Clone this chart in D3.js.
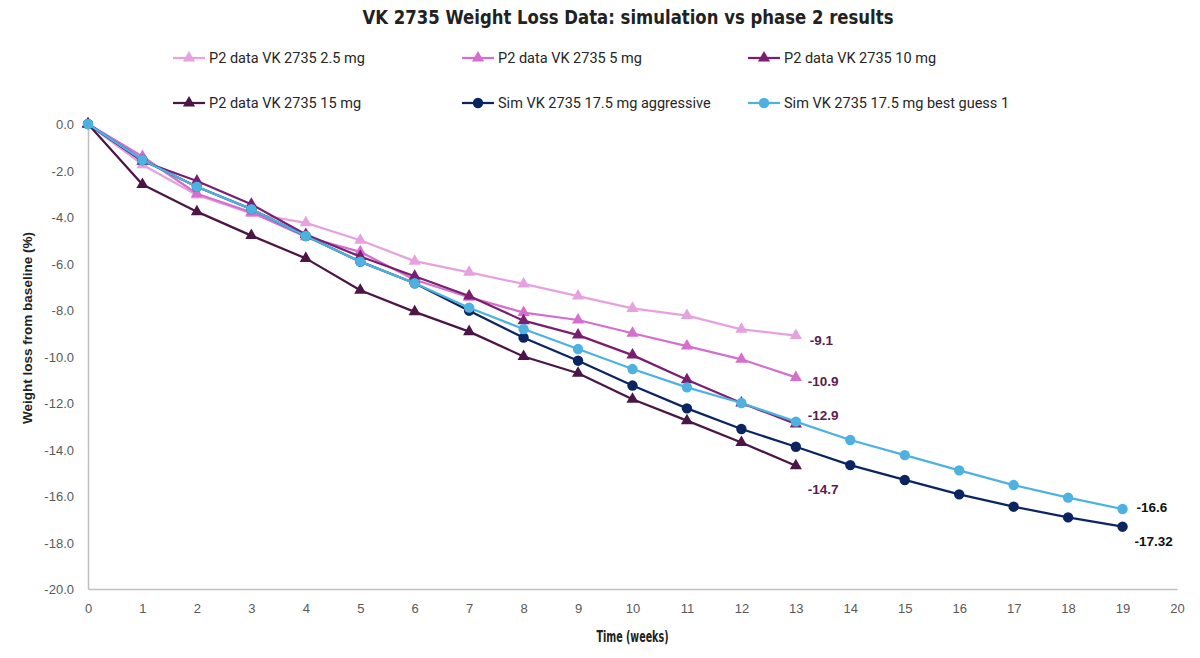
<!DOCTYPE html>
<html lang="en">
	<head>
		<meta charset="utf-8">
		<title>VK 2735 Weight Loss Data</title>
		<script type="text/javascript" src="https://d3js.org/d3.v7.min.js"></script>
		<style type="text/css">
			body { margin: 0; background: #fff; }
			svg { display: block; }
		</style>
	</head>
	<body>
		<script type="text/javascript">

			//Data
			var weeksP2 = [0, 1, 2, 3, 4, 5, 6, 7, 8, 9, 10, 11, 12, 13];
			var weeksSim = [0, 1, 2, 3, 4, 5, 6, 7, 8, 9, 10, 11, 12, 13, 14, 15, 16, 17, 18, 19];

			var p2_2_5mg = [0, -1.75, -3.05, -3.85, -4.25, -5.0, -5.9, -6.38, -6.88, -7.4, -7.93, -8.24, -8.83, -9.1];
			var p2_5mg = [0, -1.4, -3.0, -3.8, -4.85, -5.5, -6.7, -7.45, -8.11, -8.43, -9.0, -9.55, -10.12, -10.9];
			var p2_10mg = [0, -1.6, -2.45, -3.45, -4.75, -5.7, -6.55, -7.4, -8.46, -9.08, -9.94, -11.0, -12.0, -12.9];
			var p2_15mg = [0, -2.6, -3.77, -4.8, -5.78, -7.15, -8.08, -8.93, -10.0, -10.72, -11.84, -12.76, -13.7, -14.7];
			var simAggressive = [0, -1.55, -2.7, -3.66, -4.82, -5.92, -6.85, -8.03, -9.19, -10.18, -11.25, -12.23, -13.12, -13.88, -14.67, -15.31, -15.93, -16.46, -16.92, -17.32];
			var simBestGuess = [0, -1.55, -2.7, -3.66, -4.82, -5.92, -6.85, -7.9, -8.82, -9.68, -10.54, -11.33, -12.0, -12.8, -13.59, -14.24, -14.9, -15.53, -16.07, -16.56];

			var seriesNames = ["P2 data VK 2735 2.5 mg", "P2 data VK 2735 5 mg", "P2 data VK 2735 10 mg",
				"P2 data VK 2735 15 mg", "Sim VK 2735 17.5 mg aggressive", "Sim VK 2735 17.5 mg best guess 1"];
			var endLabels = ["-9.1", "-10.9", "-12.9", "-14.7", "-17.32", "-16.6"];

			var xTicks = d3.range(0, 21);
			var yTicks = [0, -2, -4, -6, -8, -10, -12, -14, -16, -18, -20];

			//Width and height
			var w = 1200;
			var h = 658;
			var margin = {top: 124, right: 23, bottom: 69, left: 88};

			var colors = ["#e6a1df", "#d46fcd", "#7a1f6f", "#4b1546", "#0b2462", "#4eb2e1"];
			var shapes = ["tri", "tri", "tri", "tri", "dot", "dot"];
			var labelColors = ["#5a1c55", "#5a1c55", "#5a1c55", "#5a1c55", "#111", "#111"];
			//label offsets from the last point
			var labelDx = [14, 12, 12, 12, 12, 14];
			var labelDy = [9, 9, -4, 28, 19, 3];

			var series = [
				{x: weeksP2, y: p2_2_5mg},
				{x: weeksP2, y: p2_5mg},
				{x: weeksP2, y: p2_10mg},
				{x: weeksP2, y: p2_15mg},
				{x: weeksSim, y: simAggressive},
				{x: weeksSim, y: simBestGuess}
			].map(function(s, i) {
				return {
					name: seriesNames[i], color: colors[i], shape: shapes[i],
					label: endLabels[i], labelColor: labelColors[i], dx: labelDx[i], dy: labelDy[i],
					points: s.x.map(function(x, j) { return {x: x, y: s.y[j]}; })
				};
			});

			var xScale = d3.scaleLinear().domain([0, 20]).range([margin.left, w - margin.right]);
			var yScale = d3.scaleLinear().domain([-20, 0]).range([h - margin.bottom, margin.top]);

			var svg = d3.select("body")
				.append("svg")
				.attr("width", w)
				.attr("height", h);

			var condensed = "'DejaVu Sans Condensed', 'DejaVu Sans', sans-serif";
			var plain = "'Liberation Sans', Arial, sans-serif";

			//Title
			svg.append("text")
				.attr("x", 628)
				.attr("y", 24)
				.attr("text-anchor", "middle")
				.attr("textLength", 531)
				.attr("lengthAdjust", "spacingAndGlyphs")
				.style("font-family", condensed)
				.style("font-weight", "bold")
				.style("font-size", "20px")
				.style("fill", "#222")
				.text("VK 2735 Weight Loss Data: simulation vs phase 2 results");

			//Axes
			var xAxis = d3.axisBottom(xScale).tickValues(xTicks).tickSize(0).tickPadding(15)
				.tickFormat(function(d) { return String(d); });
			var yAxis = d3.axisLeft(yScale).tickValues(yTicks).tickSize(0).tickPadding(14)
				.tickFormat(function(d) { return d.toFixed(1); });

			var gx = svg.append("g")
				.attr("transform", "translate(0," + (h - margin.bottom) + ")")
				.call(xAxis);
			var gy = svg.append("g")
				.attr("transform", "translate(" + margin.left + ",0)")
				.call(yAxis);

			[gx, gy].forEach(function(g) {
				g.select(".domain").attr("stroke", "#bfbfbf").attr("stroke-width", 1.5);
				g.selectAll("text")
					.style("font-family", plain)
					.style("font-size", "13px")
					.style("fill", "#595959");
			});
			gy.selectAll("text").attr("dy", "0.35em");

			//Axis titles
			svg.append("text")
				.attr("x", (margin.left + w - margin.right) / 2)
				.attr("y", 642)
				.attr("text-anchor", "middle")
				.attr("textLength", 72)
				.attr("lengthAdjust", "spacingAndGlyphs")
				.style("font-family", condensed)
				.style("font-weight", "bold")
				.style("font-size", "15px")
				.style("fill", "#222")
				.text("Time (weeks)");

			svg.append("text")
				.attr("transform", "translate(32,328) rotate(-90)")
				.attr("text-anchor", "middle")
				.style("font-family", plain)
				.style("font-weight", "bold")
				.style("font-size", "13.5px")
				.style("fill", "#222")
				.text("Weight loss from baseline (%)");

			//Lines and markers
			var line = d3.line()
				.x(function(d) { return xScale(d.x); })
				.y(function(d) { return yScale(d.y); });

			var tri = d3.symbol().type(d3.symbolTriangle).size(64);

			function drawMarker(g, shape, color, x, y) {
				if (shape === "tri") {
					g.append("path")
						.attr("d", tri)
						.attr("transform", "translate(" + x + "," + y + ")")
						.attr("fill", color);
				} else {
					g.append("circle")
						.attr("cx", x)
						.attr("cy", y)
						.attr("r", 5.2)
						.attr("fill", color);
				}
			}

			series.forEach(function(s) {
				var g = svg.append("g");
				g.append("path")
					.datum(s.points)
					.attr("d", line)
					.attr("fill", "none")
					.attr("stroke", s.color)
					.attr("stroke-width", 2.25)
					.attr("stroke-linejoin", "round");
				s.points.forEach(function(p) {
					drawMarker(g, s.shape, s.color, xScale(p.x), yScale(p.y));
				});
			});

			//End labels
			series.forEach(function(s) {
				var last = s.points[s.points.length - 1];
				svg.append("text")
					.attr("x", xScale(last.x) + s.dx)
					.attr("y", yScale(last.y) + s.dy)
					.style("font-family", plain)
					.style("font-weight", "bold")
					.style("font-size", "13.5px")
					.style("fill", s.labelColor)
					.text(s.label);
			});

			//Legend
			var legendCols = [173, 462, 748];
			var legendRows = [58, 103];
			series.forEach(function(s, i) {
				var lx = legendCols[i % 3];
				var ly = legendRows[Math.floor(i / 3)];
				var g = svg.append("g");
				g.append("line")
					.attr("x1", lx).attr("x2", lx + 32)
					.attr("y1", ly).attr("y2", ly)
					.attr("stroke", s.color)
					.attr("stroke-width", 2.25);
				drawMarker(g, s.shape, s.color, lx + 16, ly);
				g.append("text")
					.attr("x", lx + 36)
					.attr("y", ly)
					.attr("dy", "0.35em")
					.style("font-family", "'Roboto', sans-serif")
					.style("font-size", "14.5px")
					.style("fill", "#262626")
					.text(s.name);
			});

		</script>
	</body>
</html>
